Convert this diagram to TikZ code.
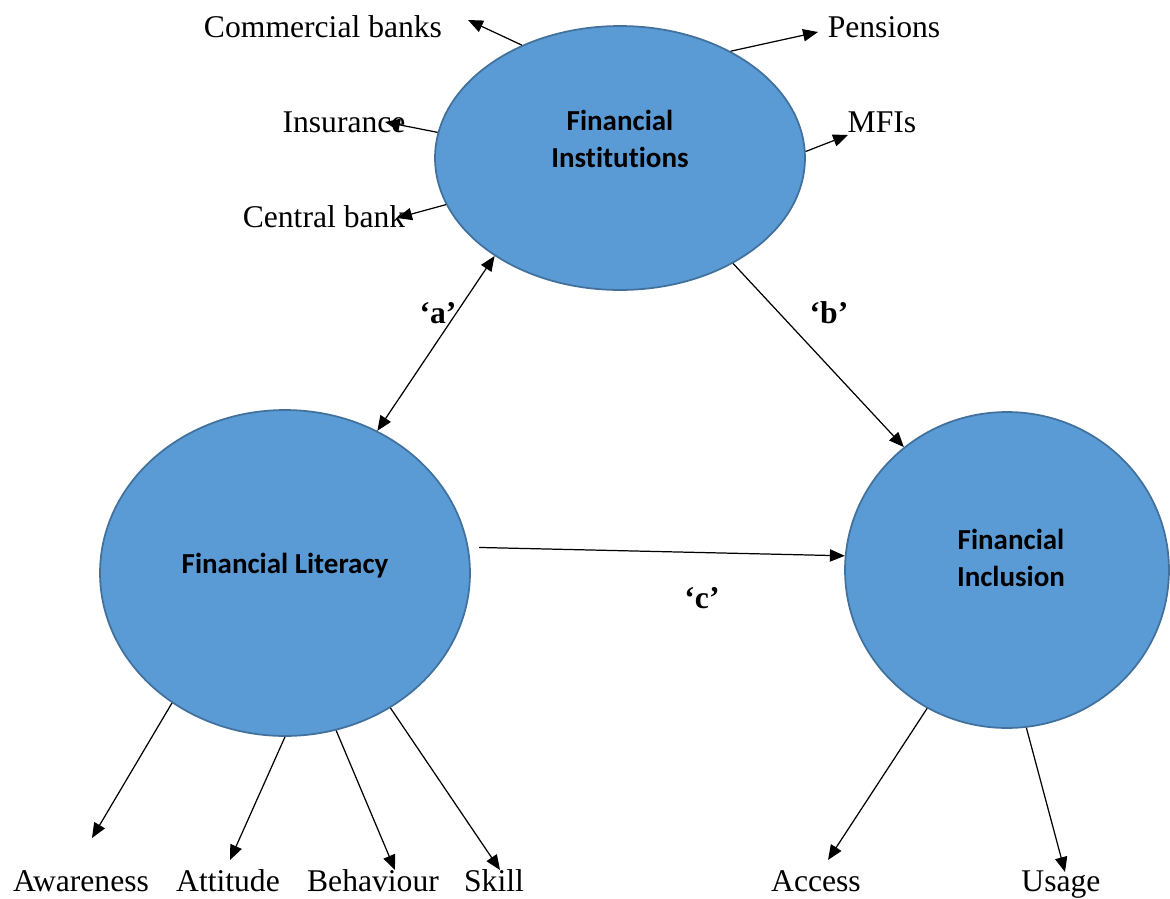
\documentclass[tikz,border=0pt]{standalone}
\usepackage{fontspec}
\setmainfont{Liberation Serif}
\newfontfamily\carlito[Ligatures=NoCommon]{Carlito}
\usetikzlibrary{arrows.meta,shapes.geometric}

\definecolor{bluefill}{HTML}{5B9BD5}
\definecolor{bluebd}{HTML}{41719C}

\tikzset{
  circ/.style={ellipse, draw=bluebd, fill=bluefill, line width=1pt, inner sep=0pt},
  ttl/.style={font=\carlito\bfseries\fontsize{16.5}{21.5}\selectfont, align=center},
  item/.style={font=\fontsize{18}{21}\selectfont, anchor=base, inner sep=0pt},
  tag/.style={font=\bfseries\fontsize{18}{21}\selectfont, inner sep=0pt},
  lnk/.style={-{Triangle[length=8.5pt,width=7pt]}, line width=0.7pt},
  lnkboth/.style={{Triangle[length=8.5pt,width=7pt]}-{Triangle[length=8.5pt,width=7pt]}, line width=0.7pt}
}

\begin{document}
\begin{tikzpicture}[x=0.02cm,y=-0.02cm]
\useasboundingbox (0,0) rectangle (1170,899);

\node[circ, minimum width=7.4cm, minimum height=5.28cm] (fi) at (620,158) {};
\node[circ, minimum width=7.4cm, minimum height=6.52cm] (fl) at (285,573) {};
\node[circ, minimum width=6.48cm, minimum height=6.32cm] (fin) at (1007,570) {};

\node[ttl] (fitxt) at (620,139) {Financial\\Institutions};
\node[ttl] (fltxt) at (285,566) {Financial Literacy};
\node[ttl] (fintxt) at (1011,558) {Financial\\Inclusion};

\node[item] (cb) at (323,37) {Commercial banks};
\node[item] (pen) at (884,37) {Pensions};
\node[item] (ins) at (344,132) {Insurance};
\node[item] (mfi) at (882,132) {MFIs};
\node[item] (cen) at (324,227) {Central bank};

\node[item] (aw) at (81,891) {Awareness};
\node[item] (att) at (228,891) {Attitude};
\node[item] (beh) at (373,891) {Behaviour};
\node[item] (sk) at (494,891) {Skill};
\node[item] (acc) at (816,891) {Access};
\node[item] (use) at (1061,891) {Usage};

\node[tag] (a) at (438,313) {‘a’};
\node[tag] (b) at (829,313) {‘b’};
\node[tag] (c) at (702,598) {‘c’};

\coordinate (cbend) at (468,20);
\coordinate (penend) at (818,32);
\coordinate (insend) at (385,122);
\coordinate (mfiend) at (848,135);
\coordinate (cenend) at (397,218);
\coordinate (awend) at (92,838);
\coordinate (attend) at (230,860);
\coordinate (behend) at (395,870);
\coordinate (skend) at (500,870);
\coordinate (accend) at (828,860);
\coordinate (useend) at (1065,872);

\draw[lnk] (fi.131) -- (cbend);
\draw[lnk] (fi.44) -- (penend);
\draw[lnk] (fi.172) -- (insend);
\draw[lnk] (fi.2) -- (mfiend);
\draw[lnk] (fi.195) -- (cenend);

\draw[lnkboth] (fi.218) -- (fl.57);
\draw[lnk] (fi.317) -- (fin.130);
\draw[lnk, shorten <=6pt] (fl.8) -- (fin.175);

\draw[lnk] (fl.229) -- (awend);
\draw[lnk] (fl.270) -- (attend);
\draw[lnk] (fl.288) -- (behend);
\draw[lnk] (fl.308) -- (skend);
\draw[lnk] (fin.240) -- (accend);
\draw[lnk] (fin.277) -- (useend);

\end{tikzpicture}
\end{document}
